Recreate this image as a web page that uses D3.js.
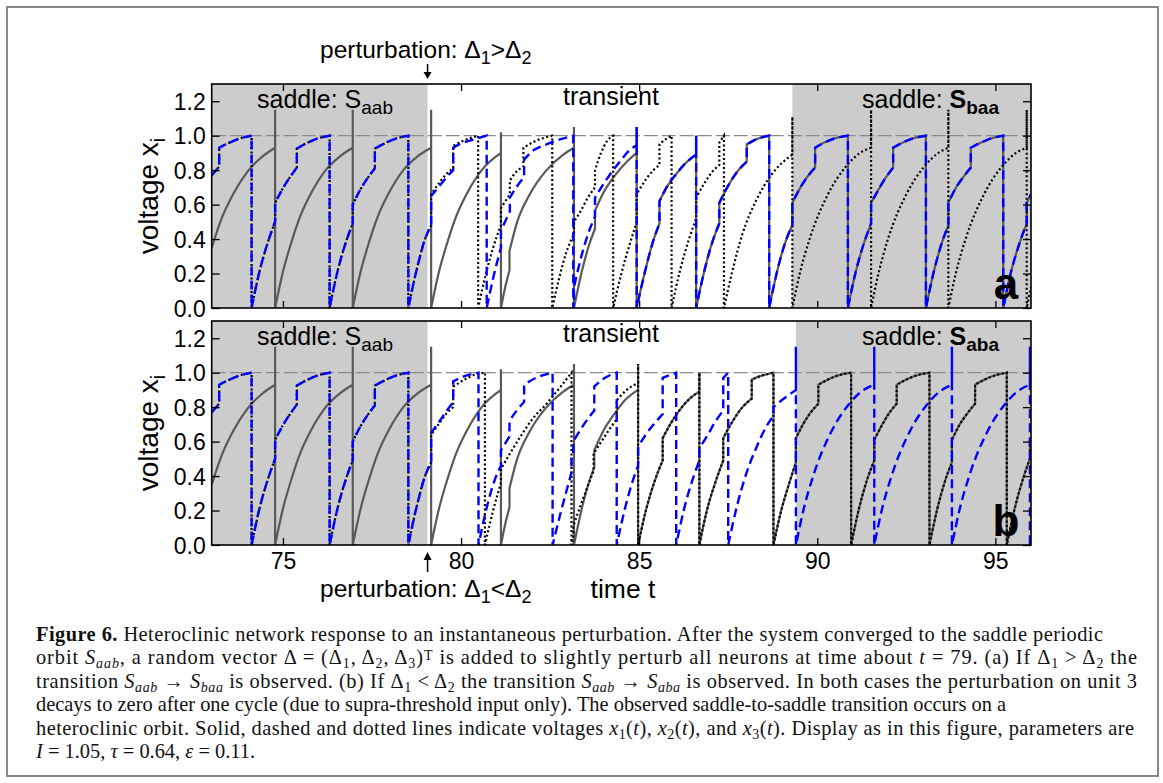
<!DOCTYPE html>
<html>
<head>
<meta charset="utf-8">
<script src="https://cdn.jsdelivr.net/npm/d3@7"></script>
<style>
  body { margin: 0; background: #fff; }
  svg { display: block; }
</style>
</head>
<body>
<svg id="fig" width="1163" height="783"></svg>
<script>
// ---- data: [time, voltage]; two points with the same time = a jump ----
const xTicks = [75, 80, 85, 90, 95];
const yTicks = [0, 0.2, 0.4, 0.6, 0.8, 1.0, 1.2];
const shadeA = [[73, 79.06], [89.30, 96]];
const shadeB = [[73, 79.06], [89.40, 96]];

// units 2 and 3 locked together before the perturbation (both panels)
const syncPre = [[73,0.77],[73.21,0.82],[73.21,0.93],[73.5,0.96],[73.8,0.985],[74.12,1.0],[74.12,0],
  [74.34,0.21],[74.59,0.39],[74.78,0.50],[74.78,0.61],[75.0,0.695],[75.2,0.76],[75.39,0.815],[75.39,0.925],
  [75.7,0.96],[76.0,0.985],[76.31,1.0],[76.31,0],[76.53,0.21],[76.78,0.39],[76.96,0.49],[76.96,0.60],
  [77.18,0.69],[77.38,0.755],[77.58,0.81],[77.58,0.925],[77.9,0.96],[78.2,0.985],[78.52,1.0],[78.52,0],
  [78.74,0.21],[78.99,0.40],[79.16,0.48]];

// unit 1 up to t = 83.17 (both panels)
const solidPre = [[73,0.35],[73.28,0.52],[73.6,0.66],[74.0,0.79],[74.4,0.875],[74.78,0.93],[74.78,1.15],[74.78,0],
  [75.0,0.21],[75.25,0.39],[75.5,0.54],[75.8,0.67],[76.2,0.80],[76.6,0.88],[76.96,0.93],[76.96,1.15],[76.96,0],
  [77.18,0.21],[77.43,0.39],[77.68,0.54],[77.98,0.67],[78.38,0.80],[78.78,0.88],[79.16,0.93],[79.16,1.15],[79.16,0],
  [79.38,0.21],[79.63,0.39],[79.88,0.54],[80.18,0.67],[80.58,0.80],[81.12,0.90],[81.12,1.02],[81.12,0],
  [81.25,0.13],[81.36,0.22],[81.36,0.33],[81.56,0.49],[81.93,0.66],[82.4,0.80],[82.87,0.89],[83.17,0.93],
  [83.17,1.05],[83.17,0]];

// panel a
const solidATrans = [[83.4,0.22],[83.6,0.37],[83.76,0.46],[83.76,0.565],[84.0,0.67],[84.36,0.78],[84.66,0.85],
  [84.93,0.90],[84.93,1.05],[84.93,0]];
const dashedATrans = [[79.16,0.65],[79.4,0.71],[79.6,0.76],[79.78,0.80],[79.78,0.93],[80.0,0.955],[80.3,0.975],
  [80.72,1.0],[80.72,0],[80.92,0.19],[81.12,0.35],[81.12,0.45],[81.37,0.56],[81.37,0.64],[81.55,0.70],[81.77,0.76],
  [81.77,0.86],[82.0,0.91],[82.4,0.95],[82.8,0.98],[83.15,1.0],[83.15,0],[83.17,0.02],[83.17,0.12],[83.39,0.31],
  [83.6,0.45],[83.76,0.53],[83.76,0.64],[84.0,0.72],[84.27,0.80],[84.5,0.86],[84.7,0.91],[84.93,0.945],
  [84.93,1.05],[84.93,0]];
// units 1 and 2 locked together (panel a, after t = 84.93)
const syncA = [[85.15,0.2],[85.38,0.38],[85.57,0.49],[85.57,0.62],[85.8,0.71],[86.05,0.78],[86.3,0.84],[86.6,0.89],
  [86.6,1.0],[86.6,0],[86.8,0.19],[87.05,0.38],[87.25,0.49],[87.25,0.61],[87.5,0.71],[87.75,0.79],[88.02,0.85],
  [88.02,0.95],[88.3,0.98],[88.65,1.0],[88.65,0],[88.87,0.21],[89.1,0.38],[89.3,0.48],[89.3,0.61],[89.5,0.69],
  [89.7,0.755],[89.94,0.815],[89.94,0.93],[90.2,0.96],[90.5,0.985],[90.86,1.0],[90.86,0],[91.08,0.21],[91.3,0.37],
  [91.51,0.49],[91.51,0.61],[91.7,0.68],[91.9,0.75],[92.13,0.815],[92.13,0.93],[92.4,0.96],[92.7,0.985],[93.05,1.0],
  [93.05,0],[93.27,0.21],[93.5,0.38],[93.68,0.48],[93.68,0.61],[93.9,0.70],[94.1,0.76],[94.31,0.815],[94.31,0.93],
  [94.6,0.96],[94.9,0.985],[95.22,1.0],[95.22,0],[95.44,0.21],[95.7,0.39],[95.88,0.49],[95.88,0.61],[96,0.66]];
const dottedATrans = [[79.16,0.66],[79.4,0.73],[79.6,0.78],[79.78,0.81],[79.78,0.94],[80.0,0.965],[80.25,0.985],
  [80.48,1.0],[80.48,0],[80.7,0.2],[80.9,0.35],[81.12,0.48],[81.12,0.58],[81.37,0.66],[81.37,0.74],[81.55,0.79],
  [81.75,0.82],[81.75,0.93],[82.1,0.97],[82.56,1.0],[82.56,0],[82.75,0.17],[82.95,0.32],[83.17,0.43],[83.17,0.50],
  [83.35,0.56],[83.56,0.64],[83.76,0.70],[83.76,0.80],[83.93,0.90],[84.1,0.97],[84.27,1.0],[84.27,0],[84.5,0.2],
  [84.75,0.38],[84.93,0.50],[84.93,0.66],[85.2,0.75],[85.4,0.80],[85.57,0.83],[85.57,0.95],[85.75,0.98],[85.91,1.0],
  [85.91,0],[86.15,0.22],[86.4,0.40],[86.6,0.52],[86.6,0.64],[86.85,0.73],[87.05,0.79],[87.25,0.83],[87.25,0.96],
  [87.38,1.0],[87.38,0],[87.6,0.2],[87.9,0.43],[88.3,0.63],[88.7,0.77],[89.0,0.84],[89.3,0.89],[89.3,1.11],[89.3,0],
  [89.52,0.21],[89.8,0.41],[90.3,0.66],[90.8,0.82],[91.2,0.90],[91.51,0.93],[91.51,1.15],[91.51,0],[91.73,0.21],
  [92.0,0.41],[92.5,0.66],[93.0,0.82],[93.4,0.90],[93.68,0.93],[93.68,1.15],[93.68,0],[93.9,0.21],[94.18,0.41],
  [94.68,0.66],[95.18,0.82],[95.58,0.90],[95.88,0.93],[95.88,1.15],[95.88,0],[96,0.12]];

// panel b
const solidBTrans = [[83.4,0.22],[83.6,0.37],[83.74,0.45],[83.74,0.55],[84.0,0.665],[84.3,0.76],[84.6,0.84],
  [84.97,0.90],[84.97,1.05],[84.97,0]];
// units 1 and 3 locked together (panel b, after t = 84.97)
const syncB = [[85.2,0.21],[85.45,0.38],[85.66,0.49],[85.66,0.62],[85.9,0.71],[86.2,0.80],[86.45,0.855],[86.69,0.89],
  [86.69,1.0],[86.69,0],[86.9,0.20],[87.15,0.37],[87.36,0.49],[87.36,0.62],[87.6,0.71],[87.9,0.80],[88.16,0.85],
  [88.16,0.96],[88.4,0.98],[88.77,1.0],[88.77,0],[89.0,0.21],[89.2,0.35],[89.4,0.48],[89.4,0.62],[89.6,0.70],
  [89.8,0.765],[90.03,0.82],[90.03,0.93],[90.3,0.96],[90.6,0.985],[90.95,1.0],[90.95,0],[91.17,0.21],[91.4,0.38],
  [91.6,0.49],[91.6,0.61],[91.8,0.69],[92.0,0.76],[92.23,0.82],[92.23,0.93],[92.5,0.96],[92.8,0.985],[93.15,1.0],
  [93.15,0],[93.37,0.21],[93.6,0.38],[93.78,0.48],[93.78,0.61],[94.0,0.70],[94.2,0.76],[94.43,0.82],[94.43,0.93],
  [94.7,0.96],[95.0,0.985],[95.32,1.0],[95.32,0],[95.54,0.21],[95.8,0.40],[95.97,0.50],[95.97,0.61],[96,0.62]];
const dottedBTrans = [[79.16,0.64],[79.4,0.71],[79.6,0.765],[79.78,0.80],[79.78,0.92],[80.1,0.96],[80.4,0.99],
  [80.67,1.0],[80.67,0],[80.9,0.2],[81.12,0.36],[81.12,0.44],[81.37,0.53],[81.64,0.62],[82.0,0.73],[82.4,0.82],
  [82.76,0.91],[83.1,1.0],[83.1,0],[83.15,0.05],[83.15,0.11],[83.41,0.26],[83.72,0.43],[83.72,0.53],[83.97,0.61],
  [84.16,0.67],[84.37,0.73],[84.37,0.84],[84.65,0.90],[84.97,0.94],[84.97,1.05],[84.97,0]];
const dashedBTrans = [[79.16,0.65],[79.4,0.72],[79.6,0.78],[79.78,0.83],[79.78,0.95],[80.1,0.98],[80.49,1.0],
  [80.49,0],[80.7,0.2],[80.95,0.38],[81.12,0.46],[81.12,0.55],[81.36,0.63],[81.36,0.72],[81.56,0.78],[81.77,0.83],
  [81.77,0.93],[82.1,0.97],[82.57,1.0],[82.57,0],[82.8,0.19],[83.1,0.42],[83.1,0.51],[83.15,0.53],[83.15,0.60],
  [83.45,0.70],[83.74,0.78],[83.74,0.92],[84.0,0.965],[84.37,1.0],[84.37,0],[84.6,0.21],[84.8,0.36],[84.97,0.46],
  [84.97,0.57],[85.2,0.645],[85.45,0.71],[85.66,0.76],[85.66,0.97],[85.85,0.985],[86.04,1.0],[86.04,0],[86.25,0.2],
  [86.5,0.38],[86.69,0.49],[86.69,0.56],[86.9,0.63],[87.15,0.72],[87.36,0.78],[87.36,0.97],[87.5,1.0],[87.5,0],
  [87.75,0.23],[88.0,0.41],[88.3,0.57],[88.55,0.68],[88.77,0.75],[88.77,0.80],[89.0,0.84],[89.2,0.87],[89.4,0.90],
  [89.4,1.15],[89.4,0],[89.62,0.21],[89.9,0.41],[90.4,0.66],[90.9,0.82],[91.3,0.90],[91.6,0.93],[91.6,1.15],[91.6,0],
  [91.82,0.21],[92.1,0.41],[92.6,0.66],[93.1,0.82],[93.5,0.90],[93.78,0.93],[93.78,1.15],[93.78,0],[94.0,0.21],
  [94.28,0.41],[94.78,0.66],[95.28,0.82],[95.68,0.90],[95.97,0.93],[95.97,1.15],[95.97,0],[96,0.03]];

const captionLines = [
  [["Figure 6.", "b"], ["  Heteroclinic network response to an instantaneous perturbation. After the system converged to the saddle periodic", ""]],
  [["orbit ", ""], ["S", "i"], ["aab", "isub"], [", a random vector \u0394 = (\u0394", ""], ["1", "sub"], [", \u0394", ""], ["2", "sub"],
   [", \u0394", ""], ["3", "sub"], [")", ""], ["T", "sup"], [" is added to slightly perturb all neurons at time about ", ""],
   ["t", "i"], [" = 79. (a) If \u0394", ""], ["1", "sub"], [" > \u0394", ""], ["2", "sub"], [" the", ""]],
  [["transition ", ""], ["S", "i"], ["aab", "isub"], [" \u2192 ", ""], ["S", "i"], ["baa", "isub"], [" is observed. (b) If \u0394", ""],
   ["1", "sub"], [" < \u0394", ""], ["2", "sub"], [" the transition ", ""], ["S", "i"], ["aab", "isub"], [" \u2192 ", ""], ["S", "i"],
   ["aba", "isub"], [" is observed. In both cases the perturbation on unit 3", ""]],
  [["decays to zero after one cycle (due to supra-threshold input only). The observed saddle-to-saddle transition occurs on a", ""]],
  [["heteroclinic orbit. Solid, dashed and dotted lines indicate voltages ", ""], ["x", "i"], ["1", "sub"], ["(", ""], ["t", "i"],
   ["), ", ""], ["x", "i"], ["2", "sub"], ["(", ""], ["t", "i"], ["), and ", ""], ["x", "i"], ["3", "sub"], ["(", ""], ["t", "i"],
   ["). Display as in this figure, parameters are", ""]],
  [["I", "i"], [" = 1.05, ", ""], ["\u03c4", "i"], [" = 0.64, ", ""], ["\u03b5", "i"], [" = 0.11.", ""]]
];
const captionEnds = [1103, 1137, 1137, null, 1134, null];

// ---- drawing ----
const sans = "'Liberation Sans', Arial, sans-serif";
const serif = "'Liberation Serif', 'Times New Roman', serif";
const svg = d3.select("#fig");
const x = d3.scaleLinear([73, 96], [211.7, 1031]);
const H = 224;

svg.append("rect").attr("x", 7).attr("y", 7).attr("width", 1151).attr("height", 769)
  .attr("fill", "none").attr("stroke", "#888").attr("stroke-width", 2);

function rich(text, parts, subSize, shift) {
  let off = 0;
  parts.forEach(([s, st]) => {
    const t = text.append("tspan").text(s);
    const small = st.includes("sub") || st === "sup";
    const want = st.includes("sub") ? shift : st === "sup" ? -shift : 0;
    if (want !== off) { t.attr("dy", want - off); off = want; }
    if (small) t.attr("font-size", subSize);
    if (st[0] === "i") t.attr("font-style", "italic");
    if (st[0] === "b") t.attr("font-weight", "bold");
  });
  return text;
}

// smooth runs between jumps, straight lines across jumps
function tracePath(pts, y) {
  const line = d3.line().x(d => x(d[0])).y(d => y(d[1])).curve(d3.curveMonotoneX);
  const runs = [];
  let cur = [pts[0]];
  for (let i = 1; i < pts.length; i++) {
    if (pts[i][0] === pts[i - 1][0]) { runs.push(cur); cur = [pts[i]]; }
    else cur.push(pts[i]);
  }
  runs.push(cur);
  return runs.map((r, i) => {
    const d = r.length > 1 ? line(r) : `M${x(r[0][0])},${y(r[0][1])}`;
    return i ? "L" + d.slice(1) : d;
  }).join("");
}

function drawPanel(p) {
  const y = d3.scaleLinear([0, 1.3], [p.top + H, p.top]);
  const g = svg.append("g");

  svg.append("clipPath").attr("id", "clip-" + p.name)
    .append("rect").attr("x", x(73)).attr("y", p.top).attr("width", x(96) - x(73)).attr("height", H);

  g.selectAll("rect.shade").data(p.shade).join("rect").attr("class", "shade")
    .attr("x", d => x(d[0])).attr("width", d => x(d[1]) - x(d[0]))
    .attr("y", p.top).attr("height", H).attr("fill", "#cccccc");

  g.append("line").attr("x1", x(73)).attr("x2", x(96)).attr("y1", y(1)).attr("y2", y(1))
    .attr("stroke", "#8a8a8a").attr("stroke-width", 1.3).attr("stroke-dasharray", "14,4");

  const tr = g.append("g").attr("clip-path", `url(#clip-${p.name})`).attr("fill", "none");
  tr.append("path").attr("d", tracePath(p.solid, y))
    .attr("stroke", "#595959").attr("stroke-width", 2.2);
  tr.append("path").attr("d", tracePath(p.dotted, y))
    .attr("stroke", "#000").attr("stroke-width", 2.2).attr("stroke-dasharray", "2,2.5");
  tr.append("path").attr("d", tracePath(p.dashed, y))
    .attr("stroke", "#0000ff").attr("stroke-width", 2.4).attr("stroke-dasharray", "9,5");

  // axes: ticks inward on all four sides
  g.append("g").attr("transform", `translate(0,${p.top + H})`)
    .call(d3.axisBottom(x).tickValues(xTicks).tickSizeInner(-7).tickSizeOuter(0).tickPadding(8)
      .tickFormat(p.xLabels ? d3.format("d") : () => ""));
  g.append("g").attr("transform", `translate(0,${p.top})`)
    .call(d3.axisTop(x).tickValues(xTicks).tickSizeInner(-7).tickSizeOuter(0).tickFormat(() => ""));
  const left = g.append("g").attr("transform", `translate(${x(73)},0)`)
    .call(d3.axisLeft(y).tickValues(yTicks).tickSizeInner(-8).tickSizeOuter(0).tickPadding(6)
      .tickFormat(d3.format(".1f")));
  g.append("g").attr("transform", `translate(${x(96)},0)`)
    .call(d3.axisRight(y).tickValues(yTicks).tickSizeInner(-8).tickSizeOuter(0).tickFormat(() => ""));
  g.selectAll(".domain").remove();
  g.selectAll(".tick line").attr("stroke", "#000").attr("stroke-width", 1.3);
  g.selectAll(".tick text").attr("font-family", sans).attr("font-size", 23).attr("fill", "#000");
  left.selectAll(".tick text").attr("dy", "0.36em");

  g.append("rect").attr("x", x(73)).attr("y", p.top).attr("width", x(96) - x(73)).attr("height", H)
    .attr("fill", "none").attr("stroke", "#000").attr("stroke-width", 1.6);

  // texts
  const lab = (tx, ty, anchor, size) => g.append("text").attr("x", tx).attr("y", ty)
    .attr("text-anchor", anchor).attr("font-family", sans).attr("font-size", size).attr("fill", "#000");
  rich(lab(257, p.top + 24, "start", 25), [["saddle: S", ""], ["aab", "sub"]], 19, 6);
  lab(611, p.top + 21, "middle", 25).text("transient");
  rich(lab(862, p.top + 24, "start", 25), [["saddle: ", ""], ["S", "b"], [p.endSaddle, "bsub"]], 19, 6);
  lab(1006, p.top + H - 9, "middle", 44).attr("font-weight", "bold").text(p.name);
  rich(g.append("text").attr("transform", `translate(158,${p.top + H / 2}) rotate(-90)`)
    .attr("text-anchor", "middle").attr("font-family", sans).attr("font-size", 28),
    [["voltage x", ""], ["i", "sub"]], 20, 7);
  return y;
}

drawPanel({ name: "a", top: 84, shade: shadeA, endSaddle: "baa",
  solid: solidPre.concat(solidATrans, syncA),
  dashed: syncPre.concat(dashedATrans, syncA),
  dotted: syncPre.concat(dottedATrans) });
drawPanel({ name: "b", top: 321, shade: shadeB, endSaddle: "aba", xLabels: true,
  solid: solidPre.concat(solidBTrans, syncB),
  dashed: syncPre.concat(dashedBTrans),
  dotted: syncPre.concat(dottedBTrans, syncB) });

// perturbation markers
const pText = (ty, parts) => rich(svg.append("text").attr("x", 320).attr("y", ty)
  .attr("font-family", sans).attr("font-size", 24.5), parts, 18, 6);
pText(58, [["perturbation: \u0394", ""], ["1", "sub"], [">\u0394", ""], ["2", "sub"]]);
pText(597, [["perturbation: \u0394", ""], ["1", "sub"], ["<\u0394", ""], ["2", "sub"]]);
const ax = x(79.06);
svg.append("line").attr("x1", ax).attr("x2", ax).attr("y1", 64).attr("y2", 74).attr("stroke", "#000").attr("stroke-width", 1.5);
svg.append("path").attr("d", `M${ax - 4},72L${ax + 4},72L${ax},79Z`).attr("fill", "#000");
svg.append("line").attr("x1", ax).attr("x2", ax).attr("y1", 572).attr("y2", 558).attr("stroke", "#000").attr("stroke-width", 1.5);
svg.append("path").attr("d", `M${ax - 4},560L${ax + 4},560L${ax},552Z`).attr("fill", "#000");

svg.append("text").attr("x", 623).attr("y", 598).attr("text-anchor", "middle")
  .attr("font-family", sans).attr("font-size", 26.5).text("time t");

// caption
captionLines.forEach((parts, i) => {
  const t = svg.append("text").attr("x", 36).attr("y", 641 + i * 23.4)
    .attr("font-family", serif).attr("font-size", 20.4).attr("fill", "#111");
  rich(t, parts, 14, 4);
  if (captionEnds[i]) t.attr("textLength", captionEnds[i] - 36).attr("lengthAdjust", "spacing");
});
</script>
</body>
</html>
